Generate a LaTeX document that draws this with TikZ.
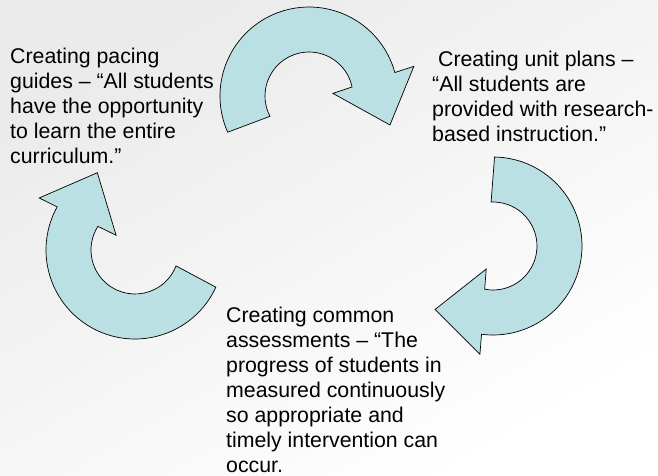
\documentclass[tikz,border=0pt]{standalone}
\usepackage{fontspec}
\setmainfont{Liberation Sans}
\begin{document}
\begin{tikzpicture}[x=1pt,y=1pt,
  arrowshape/.style={draw=black, line width=0.7pt, fill=arrowfill, line join=miter},
  % anchored at the baseline of the last line
  caption/.style={anchor=base west, inner sep=0pt, align=left, text=black,
    font=\fontsize{21.3}{25}\selectfont},
  % curved block arrow: #1 = tail angle, #2 = angle where the head begins
  pics/cyclearrow/.style 2 args={code={
    \draw[arrowshape] (#1:89) arc[start angle=#1, end angle=#2, radius=89]
      -- ({#2+0.5}:109) -- ({#2-35}:86) -- ({#2-9}:24) -- ({#2-3.5}:44)
      arc[start angle={#2-3.5}, end angle={#1+3.5}, radius=44] -- cycle;
  }}]
\definecolor{arrowfill}{HTML}{BAE0E3}

% page and soft background
\useasboundingbox (0,0) rectangle (658,475);
\shade[top color=black!8, bottom color=white, shading angle=30] (0,0) rectangle (658,475);

% the three cycle arrows
\pic (arrowtop) at (309,379) {cyclearrow={204}{15.3}};
\pic (arrowright) at (493,229) {cyclearrow={89}{-97.4}};
\pic (arrowleft) at (135,225) {cyclearrow={-24.7}{-209}};

% captions
\node[caption] (pacing) at (10,312)
  {Creating pacing\\guides – “All students\\have the opportunity\\to learn the entire\\curriculum.”};
\node[caption] (units) at (432,334)
  {\ Creating unit plans –\\“All students are\\provided with research-\\based instruction.”};
\node[caption] (assess) at (226,3)
  {Creating common\\assessments – “The\\progress of students in\\measured continuously\\so appropriate and\\timely intervention can\\occur.};
\end{tikzpicture}
\end{document}
